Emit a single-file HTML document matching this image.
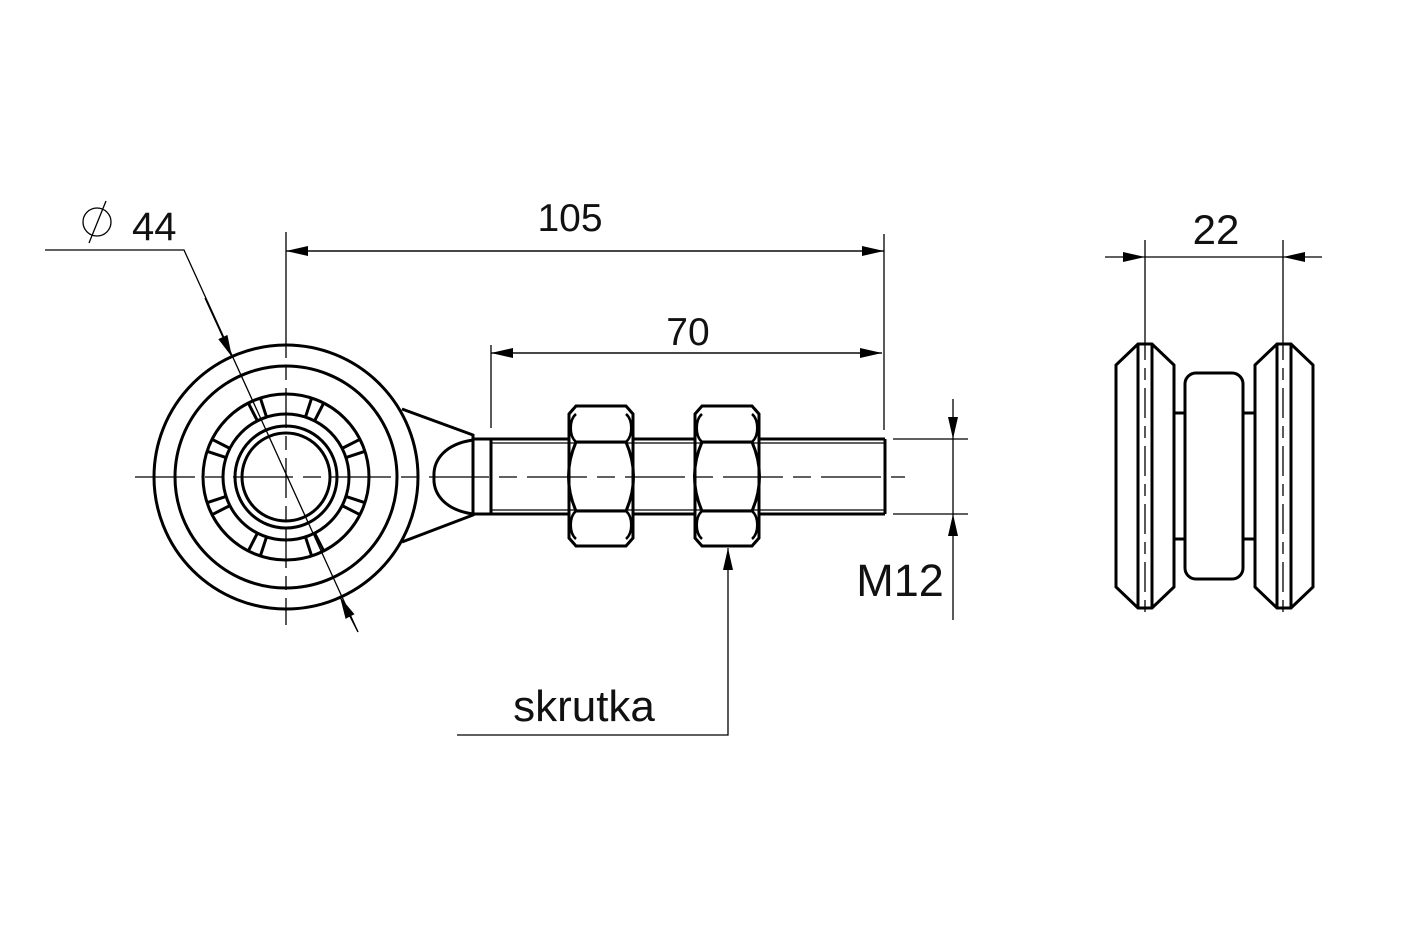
<!DOCTYPE html>
<html><head><meta charset="utf-8"><style>
html,body{margin:0;padding:0;background:#fff;}
svg{display:block;}
text{font-family:"Liberation Sans",Arial,sans-serif;fill:#111;}
</style></head><body>
<svg width="1417" height="944" viewBox="0 0 1417 944" xmlns="http://www.w3.org/2000/svg">
<rect width="1417" height="944" fill="#fff"/>
<defs>
<marker id="a" markerWidth="24" markerHeight="12" refX="22" refY="6" orient="auto" markerUnits="userSpaceOnUse">
<path d="M0,1 L22,6 L0,11 Z" fill="#000"/></marker>
</defs>
<g fill="none" stroke="#000" stroke-width="3">
<circle cx="286" cy="477" r="132"/>
<circle cx="286" cy="477" r="111"/>
<circle cx="286" cy="477" r="83"/>
<circle cx="286" cy="477" r="63"/>
<circle cx="286" cy="477" r="51"/>
<circle cx="286" cy="477" r="44"/>
<g stroke-width="3">
<g id="sep">
<line x1="286" y1="414" x2="286" y2="394" transform="rotate(18 286 477)"/>
<line x1="286" y1="414" x2="286" y2="394" transform="rotate(-18 286 477)"/>
</g>
<use href="#sep" transform="rotate(45 286 477)"/>
<use href="#sep" transform="rotate(90 286 477)"/>
<use href="#sep" transform="rotate(135 286 477)"/>
<use href="#sep" transform="rotate(180 286 477)"/>
<use href="#sep" transform="rotate(225 286 477)"/>
<use href="#sep" transform="rotate(270 286 477)"/>
<use href="#sep" transform="rotate(315 286 477)"/>
</g>
<polyline points="402,409 473,435 473,515 402,542"/>
<path d="M473,440 C445,444 433,460 434,477 C433,494 445,510 473,514"/>
<line x1="473" y1="439" x2="569" y2="439"/>
<line x1="473" y1="514" x2="569" y2="514"/>
<line x1="633" y1="439" x2="695" y2="439"/>
<line x1="633" y1="514" x2="695" y2="514"/>
<line x1="759" y1="439" x2="885" y2="439"/>
<line x1="759" y1="514" x2="885" y2="514"/>
<line x1="885" y1="439" x2="885" y2="514"/>
<line x1="491" y1="439" x2="491" y2="514"/>
<g id="nut">
<polygon points="576,406 626,406 633,414 633,538 626,546 576,546 569,538 569,414"/>
<line x1="576" y1="442" x2="626" y2="442"/>
<line x1="576" y1="511" x2="626" y2="511"/>
<path d="M576,442 C566,465 566,488 576,511 M626,442 C636,465 636,488 626,511"/>
<path d="M576,442 C569,436 569,420 576,414 M626,442 C633,436 633,420 626,414 M576,511 C569,517 569,533 576,539 M626,511 C633,517 633,533 626,539" stroke-width="2.5"/>
</g>
<use href="#nut" transform="translate(126 0)"/>
<g id="wh">
<polygon points="1138,344 1152,344 1174,365 1174,587 1152,608 1138,608 1116,587 1116,365"/>
<line x1="1138" y1="344" x2="1138" y2="608"/>
<line x1="1152" y1="344" x2="1152" y2="608"/>
</g>
<use href="#wh" transform="translate(139 0)"/>
<rect x="1185" y="373" width="58" height="206" rx="11"/>
<line x1="1174" y1="413" x2="1185" y2="413"/>
<line x1="1174" y1="539" x2="1185" y2="539"/>
<line x1="1243" y1="413" x2="1255" y2="413"/>
<line x1="1243" y1="539" x2="1255" y2="539"/>
</g>
<g fill="none" stroke="#000" stroke-width="1.3">
<line x1="491" y1="443" x2="885" y2="443"/>
<line x1="491" y1="510" x2="885" y2="510"/>
<line x1="135" y1="477" x2="905" y2="477" stroke-dasharray="60,10,18,10"/>
<line x1="286" y1="318" x2="286" y2="625" stroke-dasharray="40,8,14,8"/>
<line x1="1145" y1="330" x2="1145" y2="620" stroke-dasharray="30,8,12,8"/>
<line x1="1283" y1="330" x2="1283" y2="620" stroke-dasharray="30,8,12,8"/>
<line x1="286" y1="232" x2="286" y2="318"/>
<line x1="884" y1="234" x2="884" y2="430"/>
<line x1="286" y1="251" x2="884" y2="251" marker-end="url(#a)"/>
<line x1="884" y1="251" x2="286" y2="251" marker-end="url(#a)"/>
<line x1="491" y1="345" x2="491" y2="428"/>
<line x1="491" y1="353" x2="882" y2="353" marker-end="url(#a)"/>
<line x1="882" y1="353" x2="491" y2="353" marker-end="url(#a)"/>
<line x1="893" y1="439" x2="968" y2="439"/>
<line x1="893" y1="514" x2="968" y2="514"/>
<line x1="953" y1="399" x2="953" y2="439" marker-end="url(#a)"/>
<line x1="953" y1="620" x2="953" y2="514" marker-end="url(#a)"/>
<line x1="953" y1="439" x2="953" y2="514"/>
<polyline points="45,250 184,250 358,632"/>
<line x1="205" y1="298" x2="232" y2="357" marker-end="url(#a)"/>
<line x1="358" y1="632" x2="340" y2="597" marker-end="url(#a)"/>
<circle cx="97" cy="222" r="14"/>
<line x1="89" y1="243" x2="106" y2="201"/>
<polyline points="457,735 728,735 728,548" marker-end="url(#a)"/>
<line x1="1145" y1="240" x2="1145" y2="330"/>
<line x1="1283" y1="240" x2="1283" y2="330"/>
<line x1="1105" y1="257" x2="1145" y2="257" marker-end="url(#a)"/>
<line x1="1322" y1="257" x2="1283" y2="257" marker-end="url(#a)"/>
<line x1="1145" y1="257" x2="1283" y2="257"/>
</g>
<text x="570" y="231" font-size="39" text-anchor="middle">105</text>
<text x="688" y="345" font-size="39" text-anchor="middle">70</text>
<text x="132" y="240" font-size="40">44</text>
<text x="900" y="596" font-size="45" text-anchor="middle">M12</text>
<text x="584" y="721" font-size="44" text-anchor="middle">skrutka</text>
<text x="1216" y="244" font-size="42" text-anchor="middle">22</text>
</svg>
</body></html>
